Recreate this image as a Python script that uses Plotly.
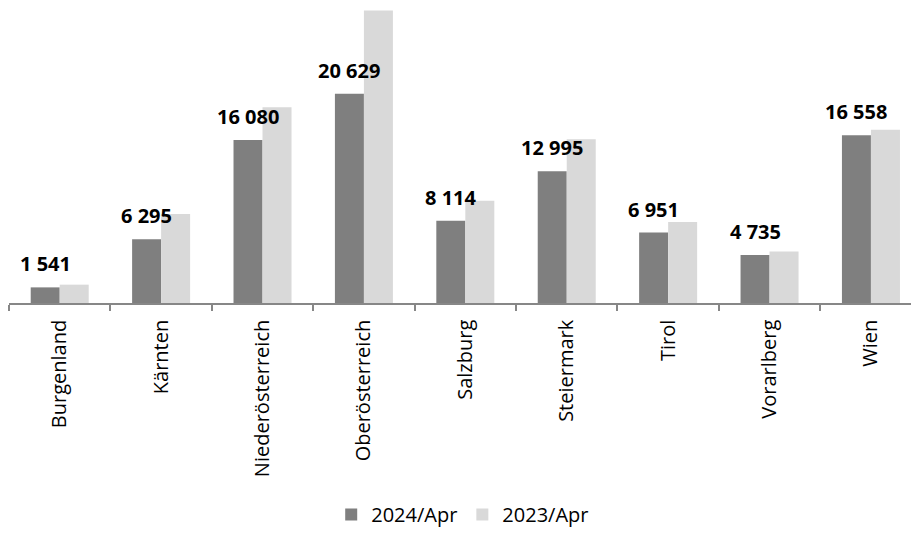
import plotly.graph_objects as go

# Categories (Austrian federal states) and values per period
states = ["Burgenland", "Kärnten", "Niederösterreich", "Oberösterreich", "Salzburg",
          "Steiermark", "Tirol", "Vorarlberg", "Wien"]
apr_2024 = [1541, 6295, 16080, 20629, 8114, 12995, 6951, 4735, 16558]
apr_2023 = [1810, 8790, 19300, 28860, 10080, 16140, 7990, 5090, 17100]
series_names = ["2024/Apr", "2023/Apr"]

FONT = "Open Sans"
DARK = "#7f7f7f"
LIGHT = "#d9d9d9"
AXIS = "#878787"

fig = go.Figure()
fig.add_trace(go.Bar(x=states, y=apr_2024, name=series_names[0],
                     marker=dict(color=DARK, line=dict(width=0))))
fig.add_trace(go.Bar(x=states, y=apr_2023, name=series_names[1],
                     marker=dict(color=LIGHT, line=dict(width=0))))

# Value labels above the 2024 bars, space as thousands separator
for s, v in zip(states, apr_2024):
    fig.add_annotation(x=s, y=v, text=f"{v:,}".replace(",", " "),
                       showarrow=False, xref="x", yref="y",
                       xanchor="center", yanchor="bottom",
                       xshift=-14.5, yshift=8,
                       font=dict(family=FONT, size=20, color="#000000", weight="bold"))

fig.update_layout(
    width=911, height=534,
    margin=dict(l=9, r=0, t=9, b=226),
    paper_bgcolor="white", plot_bgcolor="white",
    barmode="group", bargap=0.428, bargroupgap=0,
    font=dict(family=FONT, size=20, color="#000000"),
    showlegend=True,
    legend=dict(orientation="h", x=0.503, xanchor="center", y=-0.72, yanchor="middle",
                font=dict(family=FONT, size=20, color="#000000"),
                traceorder="normal"),
)
fig.update_xaxes(type="category", range=[-0.5, 8.395], showline=True, linecolor=AXIS,
                 linewidth=1.5, ticks="outside", ticklen=6, tickcolor=AXIS, tickwidth=1.5,
                 tickson="boundaries", tickangle=-90, showgrid=False, ticklabelstandoff=7,
                 tickfont=dict(family=FONT, size=20, color="#000000"))
fig.update_yaxes(range=[0, 29000], visible=False, showgrid=False)

fig.write_html("out.html")
